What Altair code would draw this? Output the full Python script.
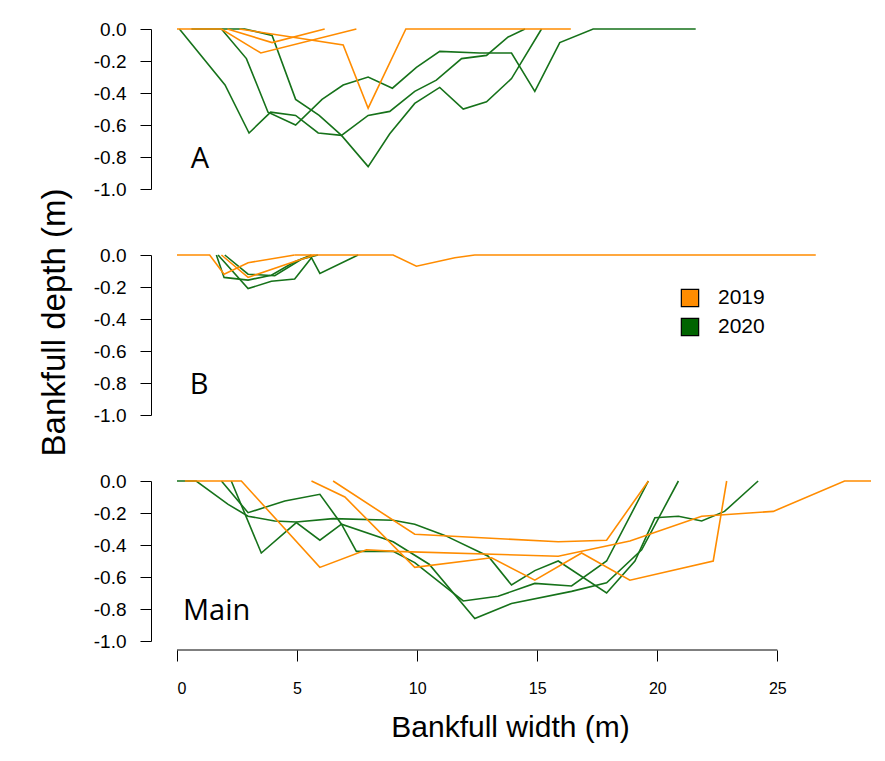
import altair as alt
import pandas as pd

ORANGE = "#FF8C00"
GREEN_LINE = "#16721a"
GREEN_FILL = "#006400"

years = ["2019", "2020"]
legend_fill = [ORANGE, GREEN_FILL]
x_ticks = [0, 5, 10, 15, 20, 25]
y_ticks = [0.0, -0.2, -0.4, -0.6, -0.8, -1.0]

# ---------------- Panel A ----------------
a19_1_x = [0, 1.85, 3.49, 7.47]
a19_1_y = [0, 0, -0.15, 0]
a19_2_x = [2.1, 3.96, 6.15]
a19_2_y = [0, -0.085, 0]
a19_3_x = [2.6, 6.92, 7.96, 9.53, 16.4]
a19_3_y = [0, -0.10, -0.495, 0, 0]

a20_1_x = [0.1, 2.0, 3.0, 3.9, 4.94, 5.88, 6.85, 7.96, 8.86, 9.9, 10.8, 11.85, 12.89, 13.79, 14.49]
a20_1_y = [0, -0.35, -0.65, -0.52, -0.54, -0.65, -0.665, -0.54, -0.515, -0.39, -0.32, -0.185, -0.165, -0.05, 0]
a20_2_x = [1.85, 2.89, 3.79, 4.94, 6.04, 6.92, 7.96, 8.97, 9.97, 10.94, 12.6, 13.93, 14.9, 15.94, 17.33, 21.6]
a20_2_y = [0, -0.185, -0.52, -0.60, -0.44, -0.35, -0.30, -0.37, -0.24, -0.14, -0.15, -0.15, -0.39, -0.085, 0, 0]
a20_3_x = [0.6, 2.82, 3.96, 4.94, 5.92, 6.85, 7.96, 8.86, 9.9, 10.94, 11.92, 12.89, 13.93, 15.18]
a20_3_y = [0, 0, -0.04, -0.44, -0.54, -0.665, -0.86, -0.655, -0.465, -0.365, -0.50, -0.455, -0.31, 0]

# ---------------- Panel B ----------------
b19_1_x = [0, 1.36, 1.96, 2.96, 4.9]
b19_1_y = [0, 0, -0.12, -0.048, 0]
b19_2_x = [1.85, 2.96, 4.9, 5.74]
b19_2_y = [0, -0.14, -0.04, 0]
b19_3_x = [4.9, 9.0, 9.97, 11.57, 12.4, 26.6]
b19_3_y = [0, 0, -0.07, -0.017, 0, 0]

b20_1_x = [1.64, 1.96, 2.96, 3.93, 4.9, 5.6]
b20_1_y = [0, -0.14, -0.157, -0.126, -0.042, 0]
b20_2_x = [1.71, 2.96, 3.93, 4.9, 5.6, 5.95, 7.54]
b20_2_y = [0, -0.21, -0.164, -0.15, -0.017, -0.115, 0]
b20_3_x = [1.99, 2.96, 4.07, 5.18, 5.87]
b20_3_y = [0, -0.12, -0.13, -0.027, 0]

# ---------------- Panel Main ----------------
m19_1_x = [0.33, 2.68, 5.95, 7.89, 9.07, 15.875, 18.86, 21.85, 24.83, 27.8, 28.9]
m19_1_y = [0, 0, -0.54, -0.43, -0.44, -0.47, -0.375, -0.22, -0.19, 0, 0]
m19_2_x = [5.6, 6.99, 9.9, 13.1, 14.9, 16.85, 18.86, 22.33, 22.89]
m19_2_y = [0, -0.10, -0.54, -0.48, -0.62, -0.45, -0.62, -0.50, 0]
m19_3_x = [6.5, 9.9, 15.875, 17.89, 19.63]
m19_3_y = [0, -0.333, -0.38, -0.37, 0]

m20_1_x = [0, 0.80, 2.13, 2.96, 4.07, 4.97, 6.5, 9.0, 9.9, 11.15, 12.96, 13.93, 14.9, 15.875, 17.89, 19.07, 19.9, 20.88, 21.85, 22.8, 24.2]
m20_1_y = [0, 0, -0.146, -0.22, -0.25, -0.256, -0.235, -0.245, -0.27, -0.34, -0.47, -0.65, -0.56, -0.50, -0.70, -0.50, -0.23, -0.22, -0.25, -0.19, 0]
m20_2_x = [1.85, 2.96, 4.49, 5.95, 6.85, 7.47, 9.0, 9.9, 11.92, 13.37, 14.9, 16.43, 17.89, 19.63]
m20_2_y = [0, -0.198, -0.125, -0.083, -0.27, -0.44, -0.44, -0.51, -0.75, -0.72, -0.64, -0.656, -0.50, 0]
m20_3_x = [2.26, 3.51, 4.97, 5.95, 6.85, 9.0, 10.5, 12.4, 13.93, 16.43, 17.89, 19.35, 20.88]
m20_3_y = [0, -0.45, -0.26, -0.37, -0.27, -0.38, -0.52, -0.86, -0.765, -0.69, -0.636, -0.43, 0]

profiles = [
    ("A", "2019", "a19_1", a19_1_x, a19_1_y),
    ("A", "2019", "a19_2", a19_2_x, a19_2_y),
    ("A", "2019", "a19_3", a19_3_x, a19_3_y),
    ("A", "2020", "a20_1", a20_1_x, a20_1_y),
    ("A", "2020", "a20_2", a20_2_x, a20_2_y),
    ("A", "2020", "a20_3", a20_3_x, a20_3_y),
    ("B", "2019", "b19_1", b19_1_x, b19_1_y),
    ("B", "2019", "b19_2", b19_2_x, b19_2_y),
    ("B", "2019", "b19_3", b19_3_x, b19_3_y),
    ("B", "2020", "b20_1", b20_1_x, b20_1_y),
    ("B", "2020", "b20_2", b20_2_x, b20_2_y),
    ("B", "2020", "b20_3", b20_3_x, b20_3_y),
    ("Main", "2019", "m19_1", m19_1_x, m19_1_y),
    ("Main", "2019", "m19_2", m19_2_x, m19_2_y),
    ("Main", "2019", "m19_3", m19_3_x, m19_3_y),
    ("Main", "2020", "m20_1", m20_1_x, m20_1_y),
    ("Main", "2020", "m20_2", m20_2_x, m20_2_y),
    ("Main", "2020", "m20_3", m20_3_x, m20_3_y),
]

rows = []
for panel_name, yr, pid, xs, ys in profiles:
    for i, (xv, yv) in enumerate(zip(xs, ys)):
        rows.append({"panel": panel_name, "year": yr, "pid": pid, "i": i, "x": xv, "y": yv})
df = pd.DataFrame(rows)

XMAX = 28.9
W = 694
H = 160
FONT = "Liberation Sans"

label_expr = "replace(format(datum.value, '.1f'), '\u2212', '-')"


def make_panel(name, label, label_x, label_align, bottom=False, ytitle=False):
    sub = df[df["panel"] == name]
    if bottom:
        xaxis = alt.Axis(values=x_ticks, domain=False, tickSize=11, offset=9,
                         labelPadding=19, labelFontSize=16, labelFont=FONT,
                         labelColor="black", tickColor="black", grid=False,
                         title="Bankfull width (m)", titleFont=FONT, titleFontSize=30,
                         titleFontWeight="normal", titleColor="black", titlePadding=16,
                         titleX=333)
    else:
        xaxis = None
    xenc = alt.X("x:Q", scale=alt.Scale(domain=[0, XMAX], nice=False, zero=False), axis=xaxis)
    yaxis_kw = dict(values=y_ticks, labelExpr=label_expr, tickSize=11, offset=26,
                    labelPadding=14, labelFontSize=19, labelFont=FONT, labelColor="black",
                    tickColor="black", domainColor="black", grid=False)
    if ytitle:
        yaxis_kw.update(title="Bankfull depth (m)", titleFont=FONT, titleFontSize=33,
                        titleFontWeight="normal", titleColor="black",
                        titleX=-97, titleY=67, titleAngle=-90, titleBaseline="middle")
    else:
        yaxis_kw.update(title=None)
    yenc = alt.Y("y:Q", scale=alt.Scale(domain=[-1.0, 0.0], nice=False, zero=False),
                 axis=alt.Axis(**yaxis_kw))

    base = alt.Chart(sub)
    layers = []
    for yr, col in [("2020", GREEN_LINE), ("2019", ORANGE)]:
        layers.append(
            base.transform_filter(alt.datum.year == yr)
            .mark_line(color=col, strokeWidth=1.6, clip=False)
            .encode(x=xenc, y=yenc, detail="pid:N", order="i:Q")
        )
    txt = alt.Chart(pd.DataFrame({"t": [label]})).mark_text(
        font="Open Sans", fontSize=29, align=label_align, baseline="middle", color="black"
    ).encode(x=alt.value(label_x), y=alt.value(130), text="t:N")
    layers.append(txt)
    if bottom:
        rule = alt.Chart(pd.DataFrame({"a": [0]})).mark_rule(color="black", strokeWidth=1).encode(
            x=alt.X(datum=x_ticks[0], scale=alt.Scale(domain=[0, XMAX], nice=False, zero=False)),
            x2=alt.datum(x_ticks[-1]),
            y=alt.value(H + 9),
        )
        layers.append(rule)
    if name == "B":
        for k, (yr, fc) in enumerate(zip(years, legend_fill)):
            ld = pd.DataFrame({"t": [yr]})
            layers.append(
                alt.Chart(ld).mark_square(size=300, color=fc, fill=fc, opacity=1,
                                          stroke="black", strokeWidth=1.2, filled=True)
                .encode(x=alt.value(513), y=alt.value(43 + 29 * k))
            )
            layers.append(
                alt.Chart(ld).mark_text(font=FONT, fontSize=21, align="left", baseline="middle", color="black")
                .encode(x=alt.value(541), y=alt.value(43 + 29 * k), text="t:N")
            )
    return alt.layer(*layers).properties(width=W, height=H)


pA = make_panel("A", "A", 23, "center")
pB = make_panel("B", "B", 22, "center", ytitle=True)
pM = make_panel("Main", "Main", 6, "left", bottom=True)

chart = alt.vconcat(pA, pB, pM, spacing=66, bounds="flush").properties(
    padding={"left": 30, "top": 12, "right": 0, "bottom": 5},
    background="white",
).configure_view(stroke=None)

chart.save("out.html", embed_options={"renderer": "svg", "actions": False})
